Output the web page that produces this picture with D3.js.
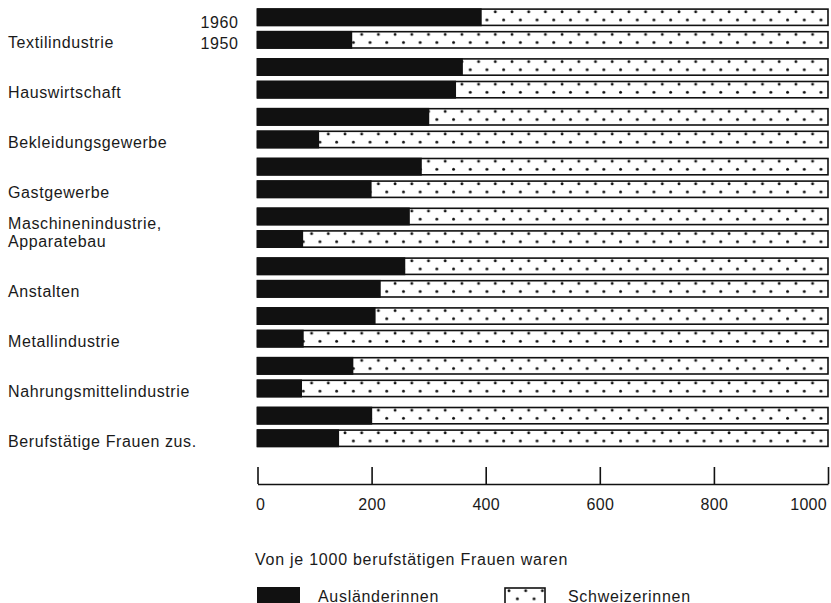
<!DOCTYPE html>
<html>
<head>
<meta charset="utf-8">
<script src="https://cdn.jsdelivr.net/npm/d3@7/dist/d3.min.js"></script>
<style>
  html, body { margin: 0; padding: 0; background: #fff; }
  svg { display: block; }
  text { font-family: "Liberation Sans", Arial, Helvetica, sans-serif; fill: #1a1a1a; }
</style>
</head>
<body>
<svg id="chart" width="831" height="603"></svg>
<script>
const categories = [
  "Textilindustrie",
  "Hauswirtschaft",
  "Bekleidungsgewerbe",
  "Gastgewerbe",
  "Maschinenindustrie,\nApparatebau",
  "Anstalten",
  "Metallindustrie",
  "Nahrungsmittelindustrie",
  "Berufstätige Frauen zus."
];
const years = ["1960", "1950"];
const auslaenderinnen1960 = [393, 360, 301, 288, 267, 259, 207, 168, 201];
const auslaenderinnen1950 = [166, 348, 108, 200, 80, 216, 81, 78, 143];
const totalPerThousand = 1000;
const xTicks = [0, 200, 400, 600, 800, 1000];
const subtitle = "Von je 1000 berufstätigen Frauen waren";
const legendLabels = ["Ausländerinnen", "Schweizerinnen"];

const svg = d3.select("#chart");
const BLACK = "#111";
const SW = 1.6;

const x = d3.scaleLinear().domain([0, totalPerThousand]).range([257.5, 828]);
const y = d3.scaleBand().domain(categories).range([9.1, 446.4]).paddingInner(0.219).paddingOuter(0);
const sub = d3.scaleBand().domain(years).range([0, y.bandwidth()]).paddingInner(0.279);

// dotted pattern (Schweizerinnen)
const defs = svg.append("defs");
const PW = 16.7, PH = sub.bandwidth();
const pat = defs.append("pattern")
  .attr("id", "dots")
  .attr("patternUnits", "userSpaceOnUse")
  .attr("width", PW)
  .attr("height", PH);
pat.append("rect").attr("width", PW).attr("height", PH).attr("fill", "#fff");
pat.append("circle").attr("cx", 4).attr("cy", 2.6).attr("r", 1.45).attr("fill", BLACK);
pat.append("circle").attr("cx", 12.35).attr("cy", 10.8).attr("r", 1.45).attr("fill", BLACK);

const rows = [];
categories.forEach((c, i) => {
  rows.push({ cat: c, year: "1960", value: auslaenderinnen1960[i] });
  rows.push({ cat: c, year: "1950", value: auslaenderinnen1950[i] });
});

const bars = svg.append("g").selectAll("g.bar").data(rows).join("g")
  .attr("class", "bar")
  .attr("transform", d => `translate(${x(0)},${y(d.cat) + sub(d.year)})`);

bars.append("rect")
  .attr("x", 0).attr("y", 0)
  .attr("width", x(totalPerThousand) - x(0))
  .attr("height", sub.bandwidth())
  .attr("fill", "url(#dots)")
  .attr("stroke", BLACK)
  .attr("stroke-width", SW);

bars.append("rect")
  .attr("x", -SW / 2).attr("y", -SW / 2)
  .attr("width", d => x(d.value) - x(0) + SW / 2)
  .attr("height", sub.bandwidth() + SW)
  .attr("fill", BLACK);

// category labels
const labelG = svg.append("g");
categories.forEach(c => {
  const lines = c.split("\n");
  const base = y(c) + y.bandwidth() + 0.2;
  lines.forEach((ln, j) => {
    labelG.append("text")
      .attr("x", 8)
      .attr("y", base - (lines.length - 1 - j) * 18.3)
      .attr("font-size", 16)
      .attr("letter-spacing", 0.6)
      .text(ln);
  });
});

// year labels for first group
years.forEach(yr => {
  svg.append("text")
    .attr("x", 238.5)
    .attr("y", y(categories[0]) + sub(yr) + sub.bandwidth() + (yr === "1960" ? 2.8 : 0.7))
    .attr("text-anchor", "end")
    .attr("font-size", 16)
    .attr("letter-spacing", 0.6)
    .text(yr);
});

// axis
const axis = d3.axisBottom(x)
  .tickValues(xTicks)
  .tickFormat(d3.format("d"))
  .tickSizeInner(-17)
  .tickSizeOuter(0)
  .tickPadding(14.6);
const axG = svg.append("g").attr("transform", "translate(0,484)").call(axis);
axG.select(".domain").attr("stroke", BLACK).attr("stroke-width", 1.5);
axG.selectAll(".tick line").attr("stroke", BLACK).attr("stroke-width", 1.6);
axG.selectAll(".tick text")
  .attr("font-size", 16)
  .attr("font-family", "\"Liberation Sans\", Arial, sans-serif")
  .attr("fill", "#1a1a1a")
  .attr("letter-spacing", 0.3);
axG.selectAll(".tick").filter(d => d === 0).select("text").attr("dx", 2.5);
axG.selectAll(".tick").filter(d => d === totalPerThousand).select("text")
  .attr("text-anchor", "end").attr("dx", -1.5);

// subtitle
svg.append("text")
  .attr("x", 255)
  .attr("y", 564.5)
  .attr("font-size", 16)
  .attr("letter-spacing", 0.75)
  .text(subtitle);

// legend
svg.append("rect")
  .attr("x", 257).attr("y", 587).attr("width", 43).attr("height", 20)
  .attr("fill", BLACK);
svg.append("text")
  .attr("x", 318).attr("y", 601.5)
  .attr("font-size", 16).attr("letter-spacing", 0.7)
  .text(legendLabels[0]);

const lg = svg.append("g").attr("transform", "translate(505,588)");
lg.append("rect")
  .attr("x", 0).attr("y", 0).attr("width", 40).attr("height", 20)
  .attr("fill", "url(#dots)")
  .attr("stroke", BLACK).attr("stroke-width", SW);
svg.append("text")
  .attr("x", 568).attr("y", 601.5)
  .attr("font-size", 16).attr("letter-spacing", 0.7)
  .text(legendLabels[1]);
</script>
</body>
</html>
